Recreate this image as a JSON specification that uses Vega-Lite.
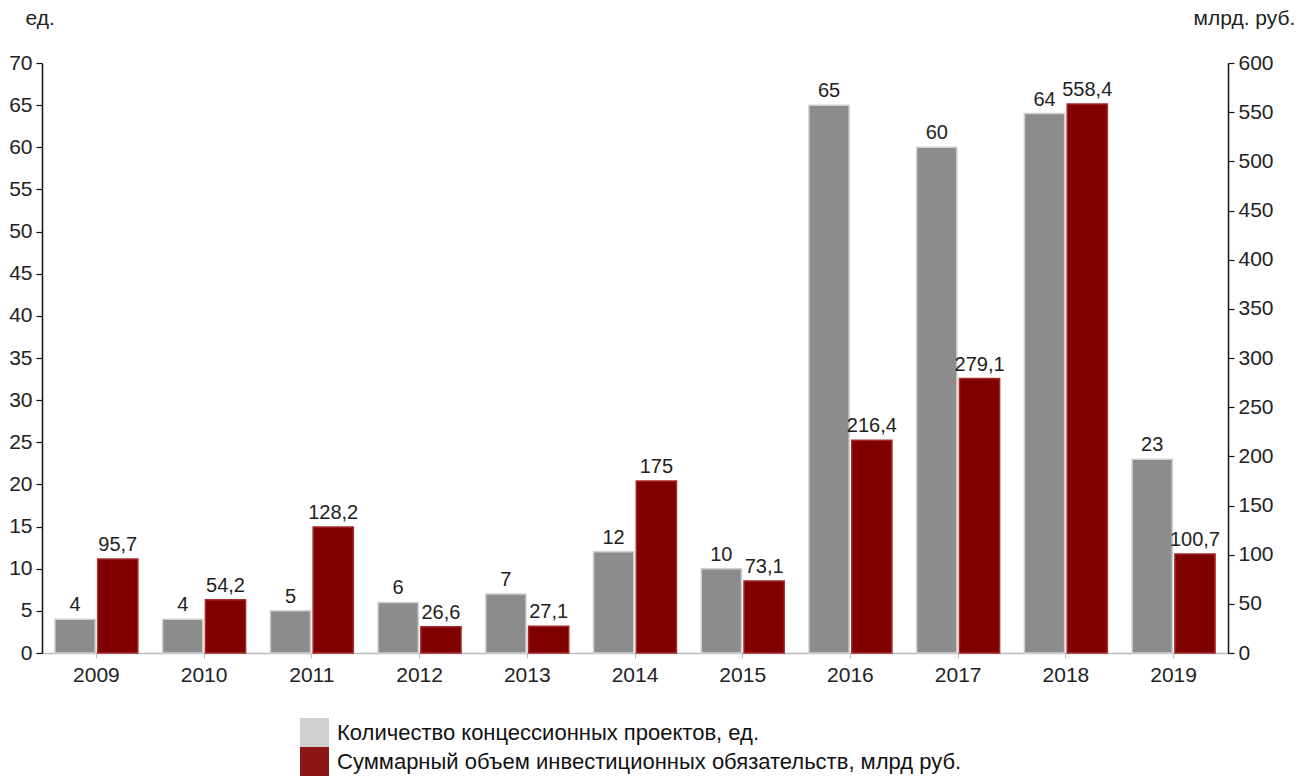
{
  "$schema": "https://vega.github.io/schema/vega-lite/v6.json",
  "width": 1186,
  "height": 590,
  "autosize": {"type": "none"},
  "padding": {"left": 42, "top": 63, "right": 83, "bottom": 125},
  "background": "white",
  "config": {
    "view": {"stroke": null},
    "font": "Liberation Sans",
    "locale": {"number": {"decimal": ",", "thousands": " ", "grouping": [3], "currency": ["", " руб."]}},
    "axis": {"labelFont": "Liberation Sans", "titleFont": "Liberation Sans", "labelColor": "#222", "titleColor": "#222", "grid": false},
    "legend": {"labelFont": "Liberation Sans"},
    "text": {"font": "Liberation Sans"}
  },
  "data": {"values": [
    {"year": "2009", "series": "Количество концессионных проектов, ед.", "value": 4},
    {"year": "2010", "series": "Количество концессионных проектов, ед.", "value": 4},
    {"year": "2011", "series": "Количество концессионных проектов, ед.", "value": 5},
    {"year": "2012", "series": "Количество концессионных проектов, ед.", "value": 6},
    {"year": "2013", "series": "Количество концессионных проектов, ед.", "value": 7},
    {"year": "2014", "series": "Количество концессионных проектов, ед.", "value": 12},
    {"year": "2015", "series": "Количество концессионных проектов, ед.", "value": 10},
    {"year": "2016", "series": "Количество концессионных проектов, ед.", "value": 65},
    {"year": "2017", "series": "Количество концессионных проектов, ед.", "value": 60},
    {"year": "2018", "series": "Количество концессионных проектов, ед.", "value": 64},
    {"year": "2019", "series": "Количество концессионных проектов, ед.", "value": 23},
    {"year": "2009", "series": "Суммарный объем инвестиционных обязательств, млрд руб.", "value": 95.7},
    {"year": "2010", "series": "Суммарный объем инвестиционных обязательств, млрд руб.", "value": 54.2},
    {"year": "2011", "series": "Суммарный объем инвестиционных обязательств, млрд руб.", "value": 128.2},
    {"year": "2012", "series": "Суммарный объем инвестиционных обязательств, млрд руб.", "value": 26.6},
    {"year": "2013", "series": "Суммарный объем инвестиционных обязательств, млрд руб.", "value": 27.1},
    {"year": "2014", "series": "Суммарный объем инвестиционных обязательств, млрд руб.", "value": 175},
    {"year": "2015", "series": "Суммарный объем инвестиционных обязательств, млрд руб.", "value": 73.1},
    {"year": "2016", "series": "Суммарный объем инвестиционных обязательств, млрд руб.", "value": 216.4},
    {"year": "2017", "series": "Суммарный объем инвестиционных обязательств, млрд руб.", "value": 279.1},
    {"year": "2018", "series": "Суммарный объем инвестиционных обязательств, млрд руб.", "value": 558.4},
    {"year": "2019", "series": "Суммарный объем инвестиционных обязательств, млрд руб.", "value": 100.7}
  ]},
  "encoding": {
    "x": {
      "field": "year", "type": "nominal",
      "scale": {"paddingInner": 0.23, "paddingOuter": 0.12},
      "axis": {"title": null, "labelAngle": 0, "labelFontSize": 21, "labelPadding": 6, "domainColor": "#bdbdbd", "domainWidth": 1.5, "tickColor": "#bdbdbd", "tickSize": 5, "bandPosition": 0.5}
    },
    "xOffset": {
      "field": "series", "type": "nominal",
      "scale": {"domain": ["Количество концессионных проектов, ед.", "Суммарный объем инвестиционных обязательств, млрд руб."], "paddingInner": 0.06}
    }
  },
  "layer": [
    {
      "transform": [{"filter": "datum.series === 'Количество концессионных проектов, ед.'"}],
      "encoding": {
        "y": {
          "field": "value", "type": "quantitative",
          "scale": {"domain": [0, 70], "nice": false},
          "axis": {"orient": "left", "values": [0,5,10,15,20,25,30,35,40,45,50,55,60,65,70], "title": "ед.", "titleAngle": 0, "titleX": -17, "titleY": -35, "titleAlign": "left", "titleFontSize": 21, "titleFontWeight": "normal", "labelFontSize": 21, "labelPadding": 4, "domainColor": "#111", "domainWidth": 1.5, "tickColor": "#111", "tickSize": 6, "tickWidth": 1.2}
        }
      },
      "layer": [
        {
          "mark": {"type": "bar", "strokeWidth": 0},
          "encoding": {
            "color": {
              "field": "series", "type": "nominal",
              "scale": {"domain": ["Количество концессионных проектов, ед.", "Суммарный объем инвестиционных обязательств, млрд руб."], "range": ["#d0d0d0", "#8b1515"]},
              "legend": {
                "title": null, "orient": "none", "legendX": 258, "legendY": 655, "direction": "vertical",
                "symbolType": "square", "symbolSize": 841, "symbolStrokeWidth": 0, "rowPadding": 0,
                "labelFontSize": 22, "labelColor": "#111", "labelOffset": 8, "labelLimit": 900
              }
            }
          }
        },
        {
          "mark": {"type": "bar", "stroke": "#cfcfcf", "strokeWidth": 1.5},
          "encoding": {
            "fill": {
              "field": "series", "type": "nominal",
              "scale": {"domain": ["Количество концессионных проектов, ед.", "Суммарный объем инвестиционных обязательств, млрд руб."], "range": ["#8c8c8c", "#800000"]},
              "legend": null
            }
          }
        },
        {
          "mark": {"type": "text", "baseline": "bottom", "dy": -4, "fontSize": 20, "color": "#222"},
          "encoding": {"text": {"field": "value", "type": "quantitative", "format": "~g"}}
        }
      ]
    },
    {
      "transform": [{"filter": "datum.series === 'Суммарный объем инвестиционных обязательств, млрд руб.'"}],
      "encoding": {
        "y": {
          "field": "value", "type": "quantitative",
          "scale": {"domain": [0, 600], "nice": false},
          "axis": {"orient": "right", "values": [0,50,100,150,200,250,300,350,400,450,500,550,600], "title": "млрд. руб.", "titleAngle": 0, "titleX": -35, "titleY": -35, "titleAlign": "left", "titleFontSize": 21, "titleFontWeight": "normal", "labelFontSize": 21, "labelPadding": 4, "domainColor": "#111", "domainWidth": 1.5, "tickColor": "#111", "tickSize": 6, "tickWidth": 1.2}
        }
      },
      "layer": [
        {
          "mark": {"type": "bar", "stroke": "#a52a2a", "strokeWidth": 1.5},
          "encoding": {
            "fill": {"field": "series", "type": "nominal", "legend": null}
          }
        },
        {
          "mark": {"type": "text", "baseline": "bottom", "dy": -4, "fontSize": 20, "color": "#222"},
          "encoding": {"text": {"field": "value", "type": "quantitative", "format": "~g"}}
        }
      ]
    }
  ],
  "resolve": {"scale": {"y": "independent"}, "axis": {"y": "independent"}}
}
